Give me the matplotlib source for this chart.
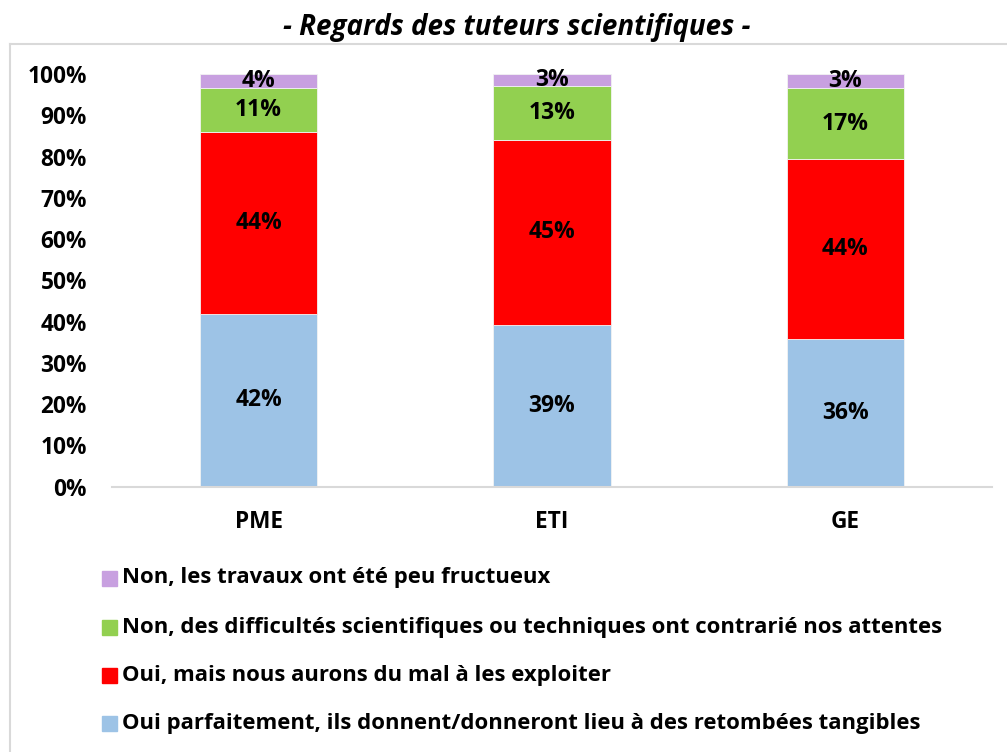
import numpy as np
import matplotlib.pyplot as plt
from matplotlib.lines import Line2D
from matplotlib.patches import Rectangle

plt.rcParams['font.family'] = ['Open Sans', 'DejaVu Sans']
plt.rcParams['font.weight'] = 'bold'

# ---- data (shares in %) ----
categories = ["PME", "ETI", "GE"]
series_names = [
    "Oui parfaitement, ils donnent/donneront lieu à des retombées tangibles",
    "Oui, mais nous aurons du mal à les exploiter",
    "Non, des difficultés scientifiques ou techniques ont contrarié nos attentes",
    "Non, les travaux ont été peu fructueux",
]
oui_parfait = [41.8, 39.3, 35.7]
oui_mal = [44.1, 44.6, 43.7]
non_diff = [10.6, 13.2, 17.2]
non_peu = [3.5, 2.9, 3.4]
colors = ["#9DC3E6", "#FF0000", "#92D050", "#C8A0E0"]
yticks = np.arange(0, 101, 10)

series = [oui_parfait, oui_mal, non_diff, non_peu]

W, H = 1007, 752
fig = plt.figure(figsize=(W / 100, H / 100), dpi=100)
ax = fig.add_axes([112 / W, 1 - 486.7 / H, 880 / W, (486.7 - 74) / H])

x = np.arange(len(categories))
bottom = np.zeros(len(categories))
for vals, col in zip(series, colors):
    vals = np.array(vals)
    ax.bar(x, vals, 0.40, bottom=bottom, color=col,
           edgecolor="#f2f2f2", linewidth=0.6)
    for xi, b, v in zip(x, bottom, vals):
        ax.text(xi, b + v / 2, f"{v:.0f}%", ha="center", va="center",
                fontsize=16.5, fontweight="bold", color="black")
    bottom += vals

ax.set_xlim(-0.5, len(categories) - 0.5)
ax.set_ylim(0, 100)
ax.set_yticks(yticks)
ax.set_yticklabels([f"{t}%" for t in yticks], fontsize=16.3, fontweight="bold")
ax.set_xticks(x)
ax.set_xticklabels(categories, fontsize=16.3, fontweight="bold")
ax.tick_params(axis="y", length=0, pad=18)
ax.tick_params(axis="x", length=0, pad=17)
for s in ["left", "right", "top"]:
    ax.spines[s].set_visible(False)
ax.spines["bottom"].set_color("#d9d9d9")
ax.spines["bottom"].set_linewidth(1.5)

# chart frame
fig.add_artist(Line2D([10 / W, 10 / W], [0, 1 - 44 / H], color="#d9d9d9", lw=1.5))
fig.add_artist(Line2D([10 / W, 1], [1 - 44 / H, 1 - 44 / H], color="#d9d9d9", lw=1.5))

fig.text(517 / W, 1 - 27 / H, "- Regards des tuteurs scientifiques -",
         ha="center", va="center", fontsize=20, fontweight="bold", style="italic")

# legend, drawn top-down in reverse series order
rows_y = [578, 627, 675, 723]
for yy, name, col in zip(rows_y, series_names[::-1], colors[::-1]):
    fig.add_artist(Rectangle((102 / W, 1 - (yy + 7.5) / H), 15 / W, 15 / H,
                             transform=fig.transFigure, color=col))
    fig.text(122 / W, 1 - yy / H, name, ha="left", va="center",
             fontsize=15.9, fontweight="bold")

fig.savefig("out.png", dpi=100)
